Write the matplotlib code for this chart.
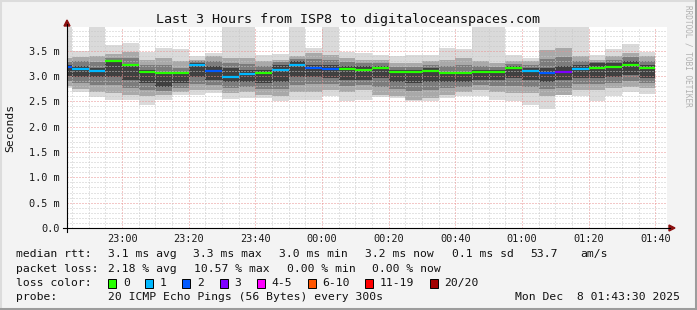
import numpy as np
import matplotlib
matplotlib.use("Agg")
import matplotlib.pyplot as plt
from matplotlib.lines import Line2D
from matplotlib.patches import Rectangle, Polygon

# ---------------- data ----------------
# 5-minute steps; each column ends at 22:45 + 5*k minutes
col_end_minutes = list(range(45, 225, 5))   # minutes after 22:00

median = [3.18, 3.14, 3.10, 3.29, 3.21, 3.09, 3.06, 3.06, 3.21, 3.10,
          2.98, 3.05, 3.07, 3.13, 3.21, 3.17, 3.15, 3.15, 3.13, 3.16,
          3.09, 3.09, 3.11, 3.06, 3.06, 3.08, 3.08, 3.17, 3.11, 3.06,
          3.09, 3.14, 3.17, 3.18, 3.21, 3.17]
loss = [2, 1, 1, 0, 0, 0, 0, 0, 1, 2, 1, 1, 0, 1, 1, 2, 2, 0, 0, 0,
        0, 0, 0, 0, 0, 0, 0, 0, 1, 2, 3, 1, 0, 0, 0, 0]

ping_max = [3.97, 3.50, 3.97, 3.62, 3.65, 3.48, 3.55, 3.54, 3.39, 3.45,
            3.97, 3.97, 3.42, 3.43, 3.97, 3.56, 3.97, 3.48, 3.45, 3.42,
            3.39, 3.42, 3.42, 3.56, 3.54, 3.97, 3.97, 3.41, 3.35, 3.97,
            3.97, 3.97, 3.41, 3.54, 3.63, 3.47]
ping_min = [2.77, 2.69, 2.58, 2.53, 2.53, 2.43, 2.53, 2.63, 2.63, 2.66,
            2.55, 2.56, 2.56, 2.51, 2.52, 2.53, 2.60, 2.51, 2.53, 2.58,
            2.56, 2.50, 2.51, 2.56, 2.60, 2.60, 2.53, 2.50, 2.42, 2.35,
            2.63, 2.60, 2.50, 2.60, 2.69, 2.64]
band2_hi = [3.35, 3.38, 3.39, 3.44, 3.48, 3.32, 3.35, 3.29, 3.32, 3.39,
            3.35, 3.35, 3.29, 3.32, 3.39, 3.45, 3.42, 3.35, 3.32, 3.32,
            3.25, 3.25, 3.29, 3.32, 3.35, 3.29, 3.25, 3.29, 3.29, 3.52,
            3.55, 3.39, 3.32, 3.39, 3.45, 3.39]
band2_lo = [2.80, 2.74, 2.69, 2.66, 2.63, 2.60, 2.63, 2.69, 2.73, 2.73,
            2.66, 2.69, 2.63, 2.60, 2.69, 2.69, 2.73, 2.69, 2.73, 2.63,
            2.60, 2.53, 2.56, 2.63, 2.69, 2.73, 2.69, 2.66, 2.66, 2.60,
            2.63, 2.73, 2.73, 2.76, 2.79, 2.76]
band3_hi = [3.28, 3.29, 3.28, 3.36, 3.35, 3.22, 3.22, 3.17, 3.29, 3.29,
            3.25, 3.23, 3.20, 3.27, 3.34, 3.33, 3.32, 3.27, 3.25, 3.25,
            3.18, 3.18, 3.22, 3.20, 3.22, 3.20, 3.18, 3.24, 3.22, 3.34,
            3.37, 3.30, 3.28, 3.32, 3.37, 3.30]
band3_lo = [2.90, 2.86, 2.83, 2.82, 2.77, 2.73, 2.71, 2.77, 2.85, 2.82,
            2.77, 2.79, 2.74, 2.74, 2.83, 2.84, 2.84, 2.80, 2.82, 2.79,
            2.74, 2.70, 2.72, 2.76, 2.79, 2.82, 2.80, 2.81, 2.79, 2.74,
            2.77, 2.84, 2.84, 2.87, 2.90, 2.86]
core_hi = [3.22, 3.20, 3.17, 3.29, 3.22, 3.12, 3.09, 3.05, 3.26, 3.19,
           3.16, 3.12, 3.12, 3.22, 3.29, 3.22, 3.22, 3.19, 3.19, 3.19,
           3.12, 3.12, 3.16, 3.09, 3.09, 3.12, 3.12, 3.19, 3.16, 3.16,
           3.19, 3.22, 3.25, 3.25, 3.29, 3.22]
core_lo = [3.00, 2.98, 2.98, 2.99, 2.92, 2.86, 2.79, 2.86, 2.98, 2.92,
           2.89, 2.89, 2.86, 2.89, 2.98, 2.99, 2.96, 2.92, 2.92, 2.96,
           2.89, 2.86, 2.89, 2.89, 2.89, 2.92, 2.92, 2.96, 2.92, 2.89,
           2.92, 2.96, 2.96, 2.99, 3.02, 2.96]

loss_levels = ["0", "1", "2", "3", "4-5", "6-10", "11-19", "20/20"]
loss_colors = ["#26ff00", "#00b8ff", "#0059ff", "#7e00ff", "#ff00ff",
               "#ff5500", "#ff0000", "#a10000"]

xtick_minutes = [60, 80, 100, 120, 140, 160, 180, 200, 220]
xtick_labels = ["23:00", "23:20", "23:40", "00:00", "00:20", "00:40",
                "01:00", "01:20", "01:40"]
ytick_values = [0.0, 0.5, 1.0, 1.5, 2.0, 2.5, 3.0, 3.5]
ytick_labels = ["0.0", "0.5 m", "1.0 m", "1.5 m", "2.0 m", "2.5 m",
                "3.0 m", "3.5 m"]

title = "Last 3 Hours from ISP8 to digitaloceanspaces.com"

# ---------------- figure ----------------
W, H = 697, 310
MONO = "DejaVu Sans Mono"
BG = "#f3f3f3"
fig = plt.figure(figsize=(W / 100, H / 100), dpi=100, facecolor=BG)


def fx(px):
    return px / W


def fy(py):
    return 1 - py / H


ax = fig.add_axes([fx(67), fy(228), 600 / W, 201 / H])
ax.set_facecolor("white")
XMIN, XMAX, YMAX = 43.5, 223.5, 3.97
ax.set_xlim(XMIN, XMAX)
ax.set_ylim(0, YMAX)
for s in ax.spines.values():
    s.set_visible(False)

ends = np.array(col_end_minutes, dtype=float)
edges = np.concatenate([[ends[0] - 5], ends])

# smoke
for lo, hi, c in [(ping_min, ping_max, "#dadada"),
                  (band2_lo, band2_hi, "#a9a9a9"),
                  (band3_lo, band3_hi, "#7c7c7c"),
                  (core_lo, core_hi, "#404040")]:
    ax.stairs(np.array(hi), edges, baseline=np.array(lo), fill=True,
              color=c, linewidth=0, zorder=1)

# grid (on top of smoke, like rrdtool)
minor_y = np.round(np.arange(0.1, YMAX, 0.1), 2)
for y in minor_y:
    if abs(y * 2 - round(y * 2)) > 1e-6:
        ax.axhline(y, color="#c8c8c8", lw=0.72, ls=(0, (1, 2)), zorder=2)
for y in ytick_values[1:]:
    ax.axhline(y, color="#e89090", lw=0.72, ls=(0, (1, 2)), zorder=2)
for m in range(45, 224, 5):
    if m % 20 != 0:
        ax.axvline(m, color="#c8c8c8", lw=0.72, ls=(0, (1, 2)), zorder=2)
for m in xtick_minutes:
    ax.axvline(m, color="#e89090", lw=0.72, ls=(0, (1, 2)), zorder=2)

# median lines coloured by loss
ax.hlines(median, edges[:-1], edges[1:],
          colors=[loss_colors[l] for l in loss], lw=1.6, zorder=3)

ax.set_xticks(xtick_minutes)
ax.set_xticklabels(xtick_labels, fontfamily=MONO, fontsize=7.4)
ax.set_yticks(ytick_values)
ax.set_yticklabels(ytick_labels, fontfamily=MONO, fontsize=7.4)
ax.tick_params(axis="x", length=0, pad=4, colors="#1a1a1a")
ax.tick_params(axis="y", length=0, pad=5.5, colors="#1a1a1a")

fig.text(fx(10), fy(128), "Seconds", rotation=90, ha="center", va="center",
         fontfamily=MONO, fontsize=8.2, color="#111111")

# axis lines with arrows
fig.add_artist(Line2D([fx(67), fx(67)], [fy(232), fy(24)], color="black", lw=0.8))
fig.add_artist(Line2D([fx(63), fx(670)], [fy(228), fy(228)], color="black", lw=0.8))
fig.add_artist(Polygon([[fx(64), fy(26)], [fx(70), fy(26)], [fx(67), fy(20)]],
                       closed=True, color="#8b1010"))
fig.add_artist(Polygon([[fx(669), fy(225)], [fx(669), fy(231)], [fx(675), fy(228)]],
                       closed=True, color="#8b1010"))

# title
fig.text(fx(348), fy(19), title, ha="center", va="center",
         fontfamily=MONO, fontsize=9.6, color="#111111")

# watermark
fig.text(fx(688), fy(5), "RRDTOOL / TOBI OETIKER", rotation=270,
         ha="center", va="top", fontfamily=MONO, fontsize=5.6, color="#b0b0b0")

# legend
LF = 8.2
rows = [254, 268.5, 283, 297.5]


def t(px, row, s, ha="left"):
    fig.text(fx(px), fy(rows[row]), s, ha=ha, va="center",
             fontfamily=MONO, fontsize=LF, color="#111111")


t(16, 0, "median rtt:")
t(107.5, 0, "3.1 ms avg")
t(193, 0, "3.3 ms max")
t(279, 0, "3.0 ms min")
t(365, 0, "3.2 ms now")
t(451.5, 0, "0.1 ms sd")
t(530, 0, "53.7")
t(580, 0, "am/s")

t(16, 1, "packet loss:")
t(107.5, 1, "2.18 % avg")
t(193.8, 1, "10.57 % max")
t(286.7, 1, "0.00 % min")
t(371.6, 1, "0.00 % now")

t(16, 2, "loss color:")
box_x = [108.4, 145.3, 182.2, 219.5, 257, 307.5, 365.3, 430]
lab_x = [123, 160, 197, 234, 271, 322, 380, 444]
for bx, lx, lab, col in zip(box_x, lab_x, loss_levels, loss_colors):
    fig.add_artist(Rectangle((fx(bx), fy(rows[2] + 4.5)), 8 / W, 9 / H,
                             facecolor=col, edgecolor="black", lw=0.7))
    t(lx, 2, lab)

t(16, 3, "probe:")
t(107.5, 3, "20 ICMP Echo Pings (56 Bytes) every 300s")
t(680, 3, "Mon Dec  8 01:43:30 2025", ha="right")

# frame around the image
fig.add_artist(Line2D([0, 1], [fy(0.5), fy(0.5)], color="#dcdcdc", lw=1.5))
fig.add_artist(Line2D([fx(0.5), fx(0.5)], [0, 1], color="#dcdcdc", lw=1.5))
fig.add_artist(Line2D([0, 1], [fy(309), fy(309)], color="#9c9c9c", lw=2.2))
fig.add_artist(Line2D([fx(696), fx(696)], [0, 1], color="#9c9c9c", lw=2.2))

fig.savefig("out.png", dpi=100, facecolor=BG)
